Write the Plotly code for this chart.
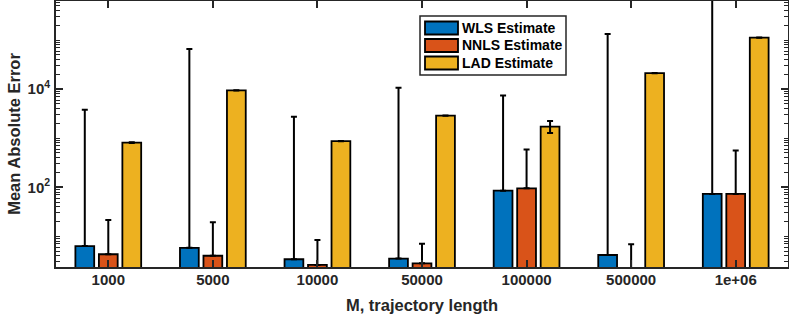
import plotly.graph_objects as go

# ---- data ----
categories = ["1000", "5000", "10000", "50000", "100000", "500000", "1e+06"]
series_names = ["WLS Estimate", "NNLS Estimate", "LAD Estimate"]

wls_mean = [6.3, 5.8, 3.4, 3.5, 85, 4.15, 73]
wls_top = [3800, 66000, 2760, 10700, 7450, 134000, 2.0e6]

nnls_mean = [4.3, 4.0, 2.6, 2.8, 95, 1.5, 73]
nnls_top = [21.5, 19.3, 8.4, 7.0, 590, 6.9, 560]

lad_mean = [813, 9500, 870, 2900, 1730, 21400, 113000]
lad_err_plus = [12, 60, 6, 20, 520, 100, 600]
lad_err_minus = [12, 60, 6, 20, 450, 100, 600]

y_tick_vals = [100, 1e4]
y_tick_text = ["10<sup>2</sup>", "10<sup>4</sup>"]

# ---- styling ----
colors = ["#0072BD", "#D95319", "#EDB120"]
ink = "#262626"
FONT = "Liberation Sans, Arial, Helvetica, sans-serif"
W, H = 789, 316
ML, MR, MT, MB = 56, 1, 1, 49

fig = go.Figure()

def upper_err(mean, top):
    return [t - m for m, t in zip(mean, top)]

traces = [
    (series_names[0], wls_mean, upper_err(wls_mean, wls_top), [0] * len(wls_mean)),
    (series_names[1], nnls_mean, upper_err(nnls_mean, nnls_top), [0] * len(nnls_mean)),
    (series_names[2], lad_mean, lad_err_plus, lad_err_minus),
]
for (name, vals, ep, em), c in zip(traces, colors):
    fig.add_trace(go.Bar(
        x=categories, y=vals, name=name,
        marker=dict(color=c, line=dict(color="black", width=1.8)),
        error_y=dict(type="data", symmetric=False, array=ep, arrayminus=em,
                     color="black", thickness=2, width=3),
        showlegend=False,
    ))

# minor log ticks (odd decades get the short ticks too)
minor_vals = [m * 10 ** k for k in range(0, 6) for m in range(1, 10)
              if not (m == 1 and k % 2 == 0)]

fig.update_layout(
    width=W, height=H,
    margin=dict(l=ML, r=MR, t=MT, b=MB, pad=0),
    paper_bgcolor="white", plot_bgcolor="white",
    barmode="group", bargap=0.326, bargroupgap=0.2,
    font=dict(family=FONT, color=ink, size=15, weight="bold"),
    xaxis=dict(
        type="category", range=[-0.5, 6.5], automargin=False,
        showline=True, linecolor=ink, linewidth=1.8, mirror="ticks",
        ticks="inside", ticklen=7, tickwidth=1.5, tickcolor=ink,
        showgrid=False,
        tickfont=dict(size=15, family=FONT, color=ink, weight="bold"),
        ticklabelstandoff=-2,
        title=dict(text="M, trajectory length", standoff=13,
                   font=dict(size=16.5, family=FONT, color=ink, weight="bold")),
    ),
    yaxis=dict(
        type="log", range=[0.373, 5.80], automargin=False,
        showline=True, linecolor=ink, linewidth=1.8, mirror="ticks",
        ticks="inside", ticklen=7, tickwidth=1.5, tickcolor=ink,
        tickmode="array", tickvals=y_tick_vals, ticktext=y_tick_text,
        showgrid=False, zeroline=False,
        tickfont=dict(size=15, family=FONT, color=ink, weight="bold"),
        ticklabelstandoff=1,
        minor=dict(tickmode="array", tickvals=minor_vals, ticks="inside",
                   ticklen=4, tickwidth=1.2, tickcolor=ink, showgrid=False),
        title=dict(text="Mean Absolute Error", standoff=3,
                   font=dict(size=16.5, family=FONT, color=ink, weight="bold")),
    ),
)

# ---- manual legend (wide swatches like the reference) ----
PW = W - ML - MR
PH = H - MT - MB

def px(xp):
    return (xp - ML) / PW

def py(yp):
    return (H - MB - yp) / PH

fig.add_shape(type="rect", xref="paper", yref="paper",
              x0=px(420), x1=px(566), y0=py(75), y1=py(16),
              line=dict(color=ink, width=1.5), fillcolor="white", layer="above")
row_centers = [28, 45.5, 63]
for name, c, yc in zip(series_names, colors, row_centers):
    fig.add_shape(type="rect", xref="paper", yref="paper",
                  x0=px(425), x1=px(458), y0=py(yc + 6.5), y1=py(yc - 6.5),
                  line=dict(color="black", width=1.8), fillcolor=c, layer="above")
    fig.add_annotation(xref="paper", yref="paper", x=px(460), y=py(yc),
                       text=name, showarrow=False, xanchor="left", yanchor="middle",
                       font=dict(size=14, family=FONT, color="black", weight="bold"))

fig.write_html("out.html", config={"displayModeBar": False},
               post_script="document.body.style.margin='0';document.body.style.overflow='hidden';")
